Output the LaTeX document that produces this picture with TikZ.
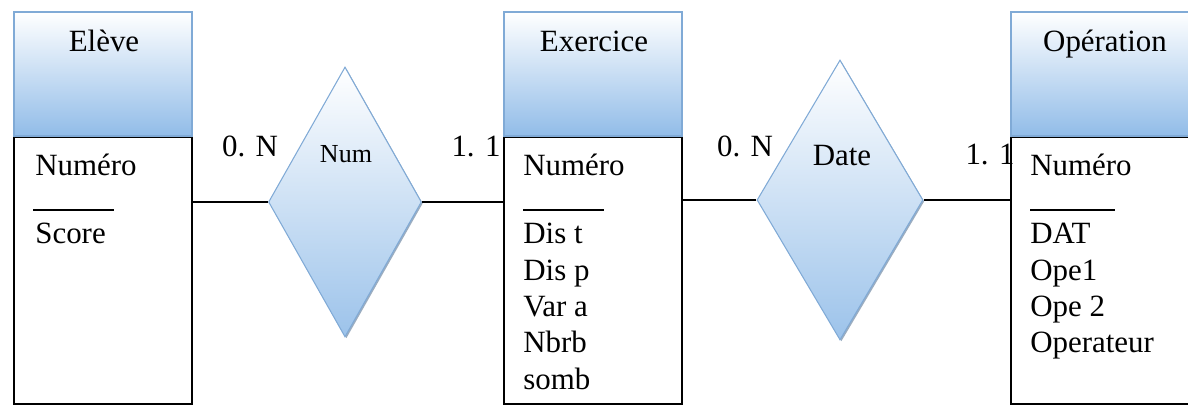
\documentclass[tikz,border=0pt]{standalone}
\usepackage{fontspec}
\setmainfont{Liberation Serif}
\usetikzlibrary{shapes.geometric,shadows}

\definecolor{headblue}{RGB}{145,188,232}
\definecolor{edgeblue}{RGB}{128,170,214}

\tikzset{
  entete/.style={draw=edgeblue, line width=0.6pt, top color=white,
    middle color=white!96!headblue, bottom color=headblue,
    minimum width=3.56cm, minimum height=2.48cm, inner sep=0pt},
  corps/.style={draw=black, line width=0.8pt, minimum width=3.56cm,
    minimum height=5.34cm, inner sep=0pt},
  relation/.style={diamond, draw=edgeblue, line width=0.6pt, top color=white,
    middle color=white!94!headblue, bottom color=headblue!90, inner sep=0pt,
    drop shadow={shadow xshift=0.8pt, shadow yshift=-0.8pt, opacity=0.6,
      fill=edgeblue!70!black}},
  titre/.style={anchor=base, inner sep=0pt, font=\fontsize{17.6}{20.6}\selectfont},
  attr/.style={anchor=base west, inner sep=0pt,
    font=\fontsize{17.6}{20.6}\selectfont},
  card/.style={anchor=base, inner sep=0pt, font=\fontsize{17.6}{20.6}\selectfont},
  cle/.style={line width=0.8pt},
  lien/.style={line width=0.8pt},
}

\begin{document}
\begin{tikzpicture}[x=0.02cm, y=0.02cm]
  \useasboundingbox (0,0) rectangle (1188,405);

  % Entity Eleve
  \node[entete] (eleveH) at (103,331) {};
  \node[corps, anchor=north] (eleveB) at (eleveH.south) {};
  \node[titre] (eleveT) at (104,353) {Elève};
  \node[attr] (eleveK) at (35,229) {Numéro};
  \draw[cle] (33,195) -- (114,195);
  \node[attr] (eleveA1) at (35,161) {Score};

  % Entity Exercice
  \node[entete] (exoH) at (593,331) {};
  \node[corps, anchor=north] (exoB) at (exoH.south) {};
  \node[titre] (exoT) at (594,353) {Exercice};
  \node[attr] (exoK) at (523,229) {Numéro};
  \draw[cle] (523,195) -- (604,195);
  \foreach \a [count=\i] in {Dis t,Dis p,Var a,Nbrb,somb}
    \node[attr] (exoA\i) at (523,{161-36.3*(\i-1)}) {\a};

  % Entity Operation (runs off the right edge)
  \node[entete] (opH) at (1100,331) {};
  \node[corps, anchor=north] (opB) at (opH.south) {};
  \node[titre] (opT) at (1105,353) {Opération};
  \node[attr] (opK) at (1030,229) {Numéro};
  \draw[cle] (1030,195) -- (1115,195);
  \foreach \a [count=\i] in {DAT,Ope1,Ope 2,Operateur}
    \node[attr] (opA\i) at (1030,{161-36.3*(\i-1)}) {\a};

  % Relations
  \node[relation, minimum width=3.06cm, minimum height=5.4cm] (num) at (345,203) {};
  \node[card, font=\fontsize{14.8}{17}\selectfont] (numT) at (346,242) {Num};
  \node[relation, minimum width=3.32cm, minimum height=5.6cm] (date) at (840,205) {};
  \node[card] (dateT) at (842,239) {Date};

  % Links
  \draw[lien] (num.west) -- (num.west -| eleveB.east);
  \draw[lien] (num.east) -- (num.east -| exoB.west);
  \draw[lien] (date.west) -- (date.west -| exoB.east);
  \draw[lien] (date.east) -- (date.east -| opB.west);

  % Cardinalities
  \node[card] (c1) at (250,248) {0. N};
  \node[card] (c2) at (476,248) {1. 1};
  \node[card] (c3) at (745,248) {0. N};
  \node[card] (c4) at (990,240) {1. 1};
\end{tikzpicture}
\end{document}
